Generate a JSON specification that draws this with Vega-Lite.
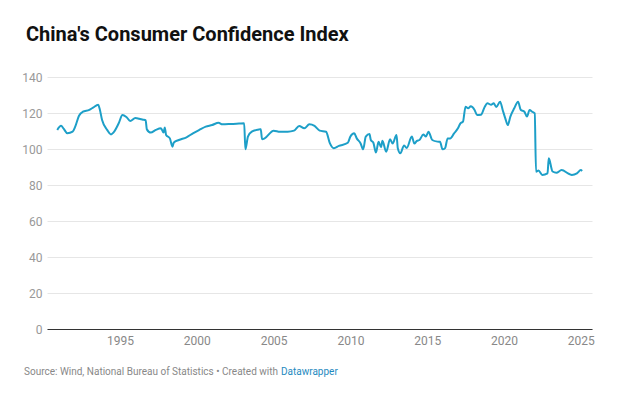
{
  "$schema": "https://vega.github.io/schema/vega-lite/v6.json",
  "width": 545,
  "height": 252,
  "autosize": {"type": "none"},
  "padding": {"left": 47, "top": 77, "right": 45, "bottom": 70},
  "background": "#ffffff",
  "config": {"view": {"stroke": null}, "font": "Roboto"},
  "title": {
    "text": "China's Consumer Confidence Index",
    "anchor": "start",
    "frame": "group",
    "font": "Roboto",
    "fontSize": 20,
    "fontWeight": "bold",
    "color": "#111111",
    "dx": -21,
    "offset": 26
  },
  "layer": [
    {
      "data": {
        "values": [
          {"date": "1990-12-01", "v": 110.6},
          {"date": "1991-03-01", "v": 112.9},
          {"date": "1991-05-01", "v": 111.3},
          {"date": "1991-08-01", "v": 108.7},
          {"date": "1991-12-01", "v": 109.6},
          {"date": "1992-02-01", "v": 112.4},
          {"date": "1992-05-01", "v": 118.5},
          {"date": "1992-08-01", "v": 120.7},
          {"date": "1993-01-01", "v": 121.7},
          {"date": "1993-04-01", "v": 123.0},
          {"date": "1993-08-01", "v": 124.6},
          {"date": "1993-09-01", "v": 122.6},
          {"date": "1993-11-01", "v": 116.1},
          {"date": "1994-03-01", "v": 110.6},
          {"date": "1994-06-01", "v": 108.1},
          {"date": "1994-08-01", "v": 109.2},
          {"date": "1994-12-01", "v": 114.3},
          {"date": "1995-03-01", "v": 118.9},
          {"date": "1995-06-01", "v": 117.8},
          {"date": "1995-09-01", "v": 115.6},
          {"date": "1996-01-01", "v": 117.2},
          {"date": "1996-04-01", "v": 116.8},
          {"date": "1996-07-01", "v": 116.3},
          {"date": "1996-09-01", "v": 116.0},
          {"date": "1996-10-01", "v": 110.9},
          {"date": "1997-01-01", "v": 109.1},
          {"date": "1997-05-01", "v": 110.6},
          {"date": "1997-09-01", "v": 111.5},
          {"date": "1997-11-01", "v": 109.1},
          {"date": "1997-12-01", "v": 112.0},
          {"date": "1998-01-01", "v": 107.8},
          {"date": "1998-04-01", "v": 105.9},
          {"date": "1998-06-01", "v": 101.3},
          {"date": "1998-07-01", "v": 103.5},
          {"date": "1998-11-01", "v": 105.0},
          {"date": "1999-05-01", "v": 106.5},
          {"date": "1999-10-01", "v": 108.7},
          {"date": "2000-03-01", "v": 110.6},
          {"date": "2000-08-01", "v": 112.4},
          {"date": "2001-01-01", "v": 113.3},
          {"date": "2001-06-01", "v": 114.6},
          {"date": "2001-09-01", "v": 113.7},
          {"date": "2002-04-01", "v": 113.9},
          {"date": "2002-10-01", "v": 114.1},
          {"date": "2003-02-01", "v": 114.3},
          {"date": "2003-03-01", "v": 99.8},
          {"date": "2003-05-01", "v": 106.9},
          {"date": "2003-08-01", "v": 109.6},
          {"date": "2004-02-01", "v": 110.9},
          {"date": "2004-03-01", "v": 111.0},
          {"date": "2004-04-01", "v": 105.4},
          {"date": "2004-06-01", "v": 105.9},
          {"date": "2005-01-01", "v": 110.2},
          {"date": "2005-06-01", "v": 109.6},
          {"date": "2005-12-01", "v": 109.6},
          {"date": "2006-05-01", "v": 110.2},
          {"date": "2006-09-01", "v": 112.8},
          {"date": "2007-01-01", "v": 111.5},
          {"date": "2007-05-01", "v": 113.7},
          {"date": "2007-09-01", "v": 112.8},
          {"date": "2008-01-01", "v": 110.2},
          {"date": "2008-06-01", "v": 109.6},
          {"date": "2008-09-01", "v": 103.1},
          {"date": "2008-12-01", "v": 100.4},
          {"date": "2009-04-01", "v": 101.7},
          {"date": "2009-11-01", "v": 103.5},
          {"date": "2010-01-01", "v": 106.9},
          {"date": "2010-04-01", "v": 108.7},
          {"date": "2010-06-01", "v": 105.9},
          {"date": "2010-09-01", "v": 103.1},
          {"date": "2010-11-01", "v": 99.8},
          {"date": "2011-01-01", "v": 106.9},
          {"date": "2011-04-01", "v": 108.3},
          {"date": "2011-05-01", "v": 105.0},
          {"date": "2011-07-01", "v": 103.5},
          {"date": "2011-09-01", "v": 98.0},
          {"date": "2011-11-01", "v": 104.0},
          {"date": "2012-01-01", "v": 101.0},
          {"date": "2012-02-01", "v": 104.6},
          {"date": "2012-05-01", "v": 98.5},
          {"date": "2012-08-01", "v": 105.4},
          {"date": "2012-10-01", "v": 103.0},
          {"date": "2013-01-01", "v": 107.8},
          {"date": "2013-02-01", "v": 100.4},
          {"date": "2013-04-01", "v": 97.6},
          {"date": "2013-07-01", "v": 102.0},
          {"date": "2013-09-01", "v": 100.5},
          {"date": "2014-01-01", "v": 106.9},
          {"date": "2014-03-01", "v": 103.0},
          {"date": "2014-05-01", "v": 104.5},
          {"date": "2014-07-01", "v": 105.0},
          {"date": "2014-10-01", "v": 108.0},
          {"date": "2014-12-01", "v": 107.0},
          {"date": "2015-02-01", "v": 109.6},
          {"date": "2015-05-01", "v": 105.0},
          {"date": "2015-09-01", "v": 104.1},
          {"date": "2015-11-01", "v": 104.0},
          {"date": "2016-01-01", "v": 99.8},
          {"date": "2016-03-01", "v": 100.5},
          {"date": "2016-05-01", "v": 105.9},
          {"date": "2016-07-01", "v": 105.9},
          {"date": "2016-10-01", "v": 108.7},
          {"date": "2017-01-01", "v": 111.5},
          {"date": "2017-03-01", "v": 114.3},
          {"date": "2017-05-01", "v": 115.2},
          {"date": "2017-07-01", "v": 123.5},
          {"date": "2017-09-01", "v": 122.6},
          {"date": "2017-11-01", "v": 123.7},
          {"date": "2018-02-01", "v": 121.7},
          {"date": "2018-04-01", "v": 118.9},
          {"date": "2018-07-01", "v": 119.0},
          {"date": "2018-10-01", "v": 123.5},
          {"date": "2018-12-01", "v": 125.4},
          {"date": "2019-03-01", "v": 124.6},
          {"date": "2019-05-01", "v": 125.4},
          {"date": "2019-07-01", "v": 123.3},
          {"date": "2019-10-01", "v": 126.3},
          {"date": "2019-12-01", "v": 121.7},
          {"date": "2020-02-01", "v": 117.0},
          {"date": "2020-04-01", "v": 113.3},
          {"date": "2020-06-01", "v": 118.0},
          {"date": "2020-09-01", "v": 122.6},
          {"date": "2020-12-01", "v": 126.3},
          {"date": "2021-02-01", "v": 121.8},
          {"date": "2021-05-01", "v": 120.7},
          {"date": "2021-07-01", "v": 118.0},
          {"date": "2021-09-01", "v": 121.7},
          {"date": "2021-11-01", "v": 120.7},
          {"date": "2022-01-01", "v": 119.8},
          {"date": "2022-02-01", "v": 87.4},
          {"date": "2022-04-01", "v": 88.0},
          {"date": "2022-07-01", "v": 85.6},
          {"date": "2022-11-01", "v": 86.5},
          {"date": "2022-12-01", "v": 94.8},
          {"date": "2023-03-01", "v": 87.5},
          {"date": "2023-06-01", "v": 86.8},
          {"date": "2023-10-01", "v": 88.3},
          {"date": "2024-04-01", "v": 86.1},
          {"date": "2024-06-01", "v": 85.6},
          {"date": "2024-10-01", "v": 86.5},
          {"date": "2025-01-01", "v": 88.3},
          {"date": "2025-02-01", "v": 87.8}
        ]
      },
      "mark": {"type": "line", "color": "#1d9fc8", "strokeWidth": 2, "strokeJoin": "round", "interpolate": "monotone"},
      "encoding": {
        "x": {
          "field": "date",
          "type": "temporal",
          "scale": {"type": "utc", "domain": [{"year": 1990, "month": 4, "date": 1, "utc": true}, {"year": 2025, "month": 9, "date": 24, "utc": true}]},
          "axis": {
            "title": null,
            "values": [{"year": 1995, "utc": true}, {"year": 2000, "utc": true}, {"year": 2005, "utc": true}, {"year": 2010, "utc": true}, {"year": 2015, "utc": true}, {"year": 2020, "utc": true}, {"year": 2025, "utc": true}],
            "format": "%Y",
            "formatType": "utc",
            "grid": false,
            "ticks": false,
            "tickSize": 0,
            "labelPadding": 6,
            "labelFont": "Roboto",
            "labelFontSize": 12,
            "labelColor": "#888888",
            "domainColor": "#333333",
            "domainWidth": 1
          }
        },
        "y": {
          "field": "v",
          "type": "quantitative",
          "scale": {"domain": [0, 140], "nice": false, "zero": true},
          "axis": {
            "title": null,
            "values": [0, 20, 40, 60, 80, 100, 120, 140],
            "domain": false,
            "ticks": false,
            "tickSize": 0,
            "labelPadding": 5,
            "labelFont": "Roboto",
            "labelFontSize": 12,
            "labelColor": "#999999",
            "gridColor": "#e6e6e6",
            "gridWidth": 1
          }
        }
      }
    },
    {
      "data": {"values": [{"t": "Source: Wind, National Bureau of Statistics • Created with"}]},
      "mark": {"type": "text", "align": "left", "baseline": "middle", "font": "Roboto", "fontSize": 10, "color": "#888888"},
      "encoding": {"text": {"field": "t"}, "x": {"value": -23}, "y": {"value": 295}}
    },
    {
      "data": {"values": [{"t": "Datawrapper"}]},
      "mark": {"type": "text", "align": "left", "baseline": "middle", "font": "Roboto", "fontSize": 10, "color": "#1f8ac0"},
      "encoding": {"text": {"field": "t"}, "x": {"value": 234}, "y": {"value": 295}}
    }
  ]
}
